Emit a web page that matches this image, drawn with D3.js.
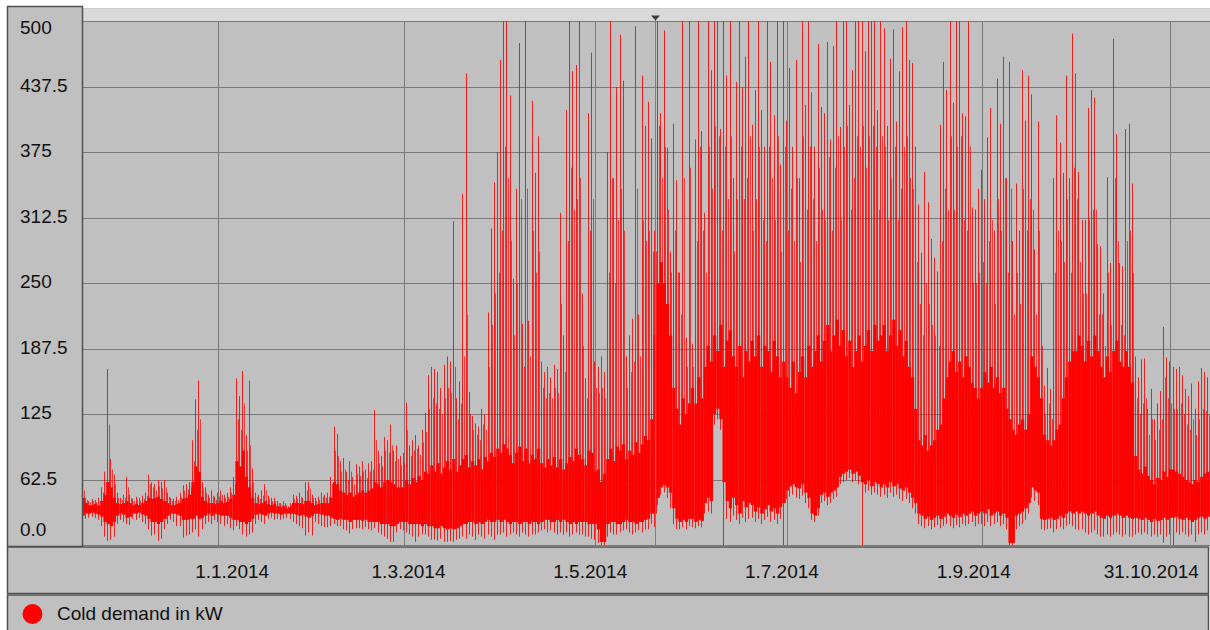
<!DOCTYPE html>
<html>
<head>
<meta charset="utf-8">
<script src="https://cdn.jsdelivr.net/npm/d3@7"></script>
<style>
  body { margin: 0; background: #ffffff; }
  svg { display: block; font-family: "Liberation Sans", Arial, Helvetica, sans-serif; }
</style>
</head>
<body>
<svg id="chart" width="1210" height="630"></svg>
<script>
// ---- data: daily envelope of the hourly cold demand (kW), one value per day from 19.11.2013 ----
const startDate = "2013-11-19";
const endDate = "2014-11-12";

// daily maximum (highest spike of the day)
const dailyMax = [
  80, 45, 42, 44, 43, 45, 55, 70, 168, 82, 67, 50,
  45, 48, 65, 48, 44, 46, 45, 47, 50, 67, 60, 58, 62, 60, 62, 50, 45, 44, 46, 50, 57, 58, 60, 100, 139, 157, 60, 55, 48, 52, 46,
  50, 52, 48, 50, 55, 65, 159, 142, 166, 105, 157, 73, 50, 48, 52, 58, 47, 45, 45, 42, 40, 42, 38, 40, 48, 47, 50, 45, 60, 60, 48,
  45, 46, 50, 48, 50, 65, 113, 106, 80, 83, 70, 80, 65, 77, 75, 80, 72, 78, 80, 129, 90, 85, 103, 100, 115, 90, 95, 85,
  88, 136, 95, 100, 105, 95, 110, 126, 162, 170, 168, 165, 150, 172, 180, 175, 309, 140, 156, 335, 450, 146, 123, 116, 113, 130, 125, 222, 302, 346, 375,
  463, 500, 500, 429, 254, 340, 479, 211, 500, 214, 424, 355, 390, 175, 165, 170, 160, 172, 168, 317, 200, 415, 500, 452, 458, 500, 240, 159, 412, 470,
  175, 170, 180, 165, 375, 500, 350, 437, 487, 443, 180, 200, 216, 495, 220, 448, 400, 423, 388, 300, 500, 412, 491, 379, 280, 402, 348, 260, 500, 198, 500,
  192, 387, 500, 395, 317, 500, 453, 500, 500, 397, 500, 448, 500, 350, 442, 500, 437, 466, 500, 401, 434, 500, 415, 380, 500, 461, 410, 500, 363, 500,
  405, 455, 380, 463, 350, 500, 420, 500, 432, 380, 478, 418, 412, 480, 387, 476, 500, 399, 500, 500, 420, 453, 500, 500, 500, 471, 500, 500, 500, 415, 500,
  493, 400, 464, 492, 404, 452, 494, 500, 463, 460, 380, 325, 279, 356, 327, 292, 274, 261, 401, 461, 434, 500, 422, 500, 500, 412, 409, 500, 322, 320, 340,
  358, 330, 389, 417, 300, 445, 402, 466, 350, 461, 290, 345, 300, 453, 405, 448, 430, 282, 404, 250, 152, 169, 149, 350, 410, 384, 355, 448, 350, 488,
  450, 356, 310, 310, 417, 434, 427, 287, 285, 240, 351, 269, 483, 392, 269, 266, 397, 402, 345, 180, 160, 177, 178, 130, 149, 120, 135, 147, 208, 179, 175,
  170, 168, 170, 162, 149, 142, 154, 130, 156, 169, 165, 160
];

// second highest excursion of the day
const dailySecond = [
  52, 43, 41, 42, 41, 42, 50, 60, 115, 72, 58, 45,
  43, 45, 55, 45, 42, 43, 42, 44, 47, 58, 55, 52, 56, 54, 55, 46, 42, 42, 43, 46, 52, 53, 55, 80, 110, 120, 54, 50, 45, 47, 43,
  46, 48, 45, 46, 50, 58, 120, 110, 135, 90, 95, 60, 46, 44, 47, 52, 44, 42, 42, 40, 38, 40, 37, 38, 44, 44, 46, 42, 52, 54, 45,
  42, 43, 46, 45, 46, 58, 90, 85, 70, 72, 62, 70, 58, 68, 66, 70, 64, 70, 72, 100, 78, 75, 90, 88, 95, 80, 82, 76,
  78, 110, 85, 90, 92, 86, 98, 108, 130, 140, 135, 130, 125, 140, 150, 145, 170, 120, 135, 180, 220, 125, 110, 105, 100, 115, 110, 170, 210, 240, 260,
  300, 380, 350, 290, 200, 250, 330, 170, 340, 180, 300, 260, 280, 150, 140, 145, 140, 150, 145, 230, 165, 290, 360, 320, 330, 350, 190, 140, 300, 330,
  150, 145, 150, 140, 260, 350, 250, 310, 340, 300, 150, 165, 175, 340, 180, 310, 290, 300, 280, 280, 400, 350, 380, 320, 260, 300, 260, 220, 350, 170, 360,
  170, 290, 380, 300, 260, 380, 340, 400, 390, 300, 380, 330, 390, 280, 330, 380, 330, 350, 390, 300, 330, 380, 310, 290, 380, 350, 310, 390, 280, 380,
  300, 340, 290, 350, 270, 390, 320, 380, 330, 290, 360, 320, 310, 370, 300, 360, 390, 310, 380, 400, 320, 350, 390, 380, 400, 360, 390, 400, 380, 320, 390,
  380, 310, 350, 380, 310, 340, 380, 390, 350, 340, 270, 230, 200, 250, 230, 210, 200, 190, 290, 340, 320, 390, 320, 380, 390, 310, 300, 380, 250, 250, 260,
  270, 250, 290, 310, 230, 330, 300, 350, 260, 340, 220, 260, 230, 340, 300, 330, 320, 220, 300, 190, 125, 135, 120, 260, 300, 290, 270, 330, 260, 360,
  330, 270, 240, 240, 310, 320, 320, 220, 220, 190, 260, 210, 350, 290, 210, 200, 290, 300, 260, 140, 125, 135, 140, 105, 120, 100, 110, 120, 160, 140, 135,
  130, 130, 135, 125, 115, 110, 120, 105, 120, 130, 128, 125
];

// upper edge of the dense daily band
const dailyTop = [
  45, 40, 38, 38, 39, 38, 42, 48, 60, 55, 45, 40,
  39, 40, 42, 40, 38, 39, 38, 40, 42, 45, 44, 45, 46, 44, 42, 40, 38, 38, 39, 40, 44, 45, 48, 60, 75, 70, 46, 42, 40, 40, 39,
  40, 42, 40, 41, 44, 48, 80, 75, 90, 65, 55, 45, 40, 39, 40, 42, 39, 38, 39, 37, 36, 37, 35, 36, 40, 40, 40, 39, 42, 42, 40,
  38, 39, 40, 40, 40, 45, 60, 58, 52, 50, 48, 50, 46, 48, 50, 52, 50, 52, 54, 60, 58, 55, 60, 62, 60, 58, 55, 55,
  55, 62, 58, 64, 60, 66, 62, 70, 68, 76, 70, 78, 68, 74, 80, 72, 82, 70, 76, 82, 86, 74, 80, 76, 82, 72, 84, 80, 88, 84, 92,
  88, 96, 92, 86, 78, 88, 94, 80, 92, 78, 86, 82, 92, 78, 74, 82, 76, 84, 74, 82, 72, 78, 84, 80, 92, 86, 82, 76, 90, 88,
  70, 72, 60, 68, 82, 92, 80, 94, 90, 96, 82, 90, 86, 98, 88, 96, 104, 100, 120, 200, 250, 270, 250, 230, 200, 150, 130, 115, 140, 125, 135,
  150, 135, 160, 140, 170, 190, 175, 200, 185, 210, 170, 195, 205, 180, 170, 190, 160, 185, 175, 195, 180, 200, 170, 190, 185, 165, 195, 180, 160, 175,
  160, 150, 175, 145, 165, 180, 160, 190, 170, 185, 200, 175, 195, 210, 185, 200, 215, 190, 205, 180, 195, 170, 185, 200, 175, 190, 205, 185, 210, 195, 200,
  210, 185, 200, 215, 190, 205, 180, 195, 170, 160, 130, 100, 95, 105, 90, 95, 100, 110, 115, 140, 160, 175, 185, 165, 175, 160, 180, 170, 155, 150, 140,
  150, 165, 155, 170, 150, 160, 145, 150, 130, 120, 110, 105, 115, 120, 110, 125, 180, 170, 160, 140, 105, 100, 95, 100, 110, 115, 140, 160, 175, 185,
  185, 200, 190, 175, 195, 180, 200, 185, 170, 160, 180, 165, 185, 195, 175, 170, 185, 170, 155, 85, 72, 68, 75, 66, 62, 58, 64, 62, 70, 65, 72,
  72, 70, 68, 65, 62, 60, 58, 62, 60, 65, 68, 70
];

// lower edge of the dense daily band
const dailyBottom = [
  28, 30, 30, 31, 30, 29, 27, 22, 20, 18, 22, 28,
  30, 29, 26, 27, 30, 30, 31, 29, 28, 25, 22, 22, 20, 22, 25, 28, 30, 30, 29, 28, 24, 24, 25, 25, 28, 25, 26, 28, 30, 28, 30,
  29, 28, 28, 28, 26, 24, 24, 22, 22, 20, 22, 25, 29, 30, 29, 28, 30, 31, 30, 30, 29, 30, 30, 30, 30, 29, 28, 29, 27, 26, 28,
  30, 30, 29, 28, 28, 26, 25, 24, 25, 24, 24, 22, 24, 24, 24, 23, 24, 22, 22, 22, 22, 20, 20, 20, 18, 18, 20, 22,
  22, 22, 20, 20, 20, 20, 18, 20, 18, 18, 16, 16, 18, 16, 15, 16, 15, 16, 18, 20, 20, 22, 22, 20, 22, 20, 22, 24, 22, 22, 24,
  22, 24, 22, 20, 22, 22, 20, 22, 22, 20, 22, 22, 20, 22, 24, 24, 22, 22, 24, 22, 24, 22, 20, 22, 20, 22, 22, 22, 20, 20,
  20, 15, 3, 3, 20, 22, 22, 20, 20, 22, 24, 22, 22, 20, 22, 22, 24, 25, 30, 30, 45, 55, 57, 55, 50, 35, 25, 22, 24, 22, 25,
  25, 22, 24, 23, 40, 45, 42, 125, 130, 120, 60, 42, 35, 45, 38, 30, 42, 36, 40, 38, 32, 36, 30, 34, 38, 32, 35, 30, 36, 40,
  52, 56, 58, 55, 54, 58, 50, 45, 30, 28, 35, 48, 50, 46, 50, 52, 55, 65, 68, 70, 72, 68, 70, 66, 60, 58, 62, 56, 60, 58, 55,
  58, 55, 60, 56, 58, 54, 52, 55, 50, 45, 40, 30, 28, 25, 27, 24, 26, 28, 25, 27, 30, 28, 26, 29, 27, 30, 28, 30, 32, 28, 30,
  32, 30, 34, 28, 30, 32, 28, 30, 26, 2, 2, 28, 30, 32, 35, 40, 55, 52, 50, 25, 24, 25, 26, 24, 25, 28, 26, 30, 32, 30,
  32, 30, 32, 30, 28, 30, 32, 28, 26, 25, 28, 26, 28, 30, 28, 26, 28, 26, 25, 26, 25, 24, 26, 24, 22, 25, 23, 24, 26, 24, 26,
  26, 27, 25, 24, 26, 24, 22, 24, 26, 27, 25, 27
];

// daily minimum
const dailyMin = [
  22, 25, 26, 27, 26, 24, 18, 8, 4, 5, 8, 20,
  24, 22, 20, 19, 25, 24, 26, 22, 20, 15, 9, 10, 4, 6, 15, 20, 24, 22, 18, 18, 7, 9, 10, 12, 15, 8, 15, 20, 22, 20, 24,
  22, 20, 18, 20, 16, 14, 18, 15, 10, 8, 10, 12, 20, 24, 22, 20, 25, 26, 24, 25, 24, 25, 26, 25, 22, 20, 18, 16, 9, 12, 9,
  22, 20, 18, 17, 17, 18, 20, 18, 18, 15, 14, 11, 15, 16, 16, 15, 17, 15, 14, 16, 12, 10, 8, 6, 3, 3, 12, 15,
  14, 12, 10, 8, 3, 8, 10, 10, 8, 5, 5, 4, 6, 3, 3, 4, 3, 5, 6, 8, 6, 10, 8, 5, 10, 8, 6, 10, 8, 5, 10,
  10, 12, 8, 10, 12, 10, 8, 12, 10, 8, 10, 10, 12, 14, 15, 12, 14, 12, 10, 12, 10, 12, 8, 10, 12, 10, 10, 8, 8, 6,
  5, 2, 0, 0, 8, 12, 10, 10, 12, 14, 15, 12, 10, 12, 14, 12, 15, 15, 20, 17, 38, 48, 50, 45, 35, 20, 15, 15, 17, 15, 18,
  17, 16, 18, 17, 30, 32, 30, 115, 120, 110, 0, 25, 22, 28, 24, 20, 26, 22, 25, 26, 22, 25, 20, 24, 27, 22, 24, 20, 25, 0,
  44, 46, 48, 45, 44, 47, 40, 35, 24, 22, 28, 40, 42, 38, 40, 44, 46, 58, 60, 62, 64, 60, 62, 58, 0, 50, 52, 48, 50, 48, 46,
  48, 45, 50, 46, 48, 44, 42, 44, 40, 35, 30, 20, 18, 16, 18, 15, 17, 19, 16, 18, 20, 18, 16, 19, 17, 20, 18, 20, 22, 18, 20,
  20, 18, 22, 18, 20, 22, 18, 20, 15, 0, 0, 15, 18, 20, 24, 30, 45, 42, 38, 15, 14, 15, 16, 12, 15, 17, 15, 18, 20, 18,
  15, 14, 15, 12, 10, 12, 14, 10, 8, 8, 10, 8, 10, 12, 10, 8, 10, 8, 8, 10, 12, 10, 12, 10, 8, 10, 8, 10, 2, 8, 10,
  0, 12, 10, 12, 10, 8, 10, 3, 10, 12, 10, 14
];

const yTicks = [0, 62.5, 125, 187.5, 250, 312.5, 375, 437.5, 500];
const yTickLabels = ["0.0", "62.5", "125", "187.5", "250", "312.5", "375", "437.5", "500"];
const xTickDates = ["2014-01-01", "2014-03-01", "2014-05-01", "2014-07-01", "2014-09-01", "2014-10-31"];
const xTickLabels = ["1.1.2014", "1.3.2014", "1.5.2014", "1.7.2014", "1.9.2014", "31.10.2014"];
const cursorDate = "2014-05-20";
const seriesName = "Cold demand in kW";

// ---- layout ----
const plot = { left: 83, right: 1208, top: 21, bottom: 545 };
const labelNudge = [14, 5, -5, -5, -8, -19];   // horizontal shift of the date captions
const font = 19;

const parse = d3.utcParse("%Y-%m-%d");
const t0 = parse(startDate);
const days = dailyMax.map((v, i) => ({
  date: d3.utcDay.offset(t0, i),
  max: v, second: dailySecond[i], top: dailyTop[i], bottom: dailyBottom[i], min: dailyMin[i]
}));

const x = d3.scaleUtc().domain([t0, parse(endDate)]).range([plot.left, plot.right]);
const y = d3.scaleLinear().domain([0, 500]).range([plot.bottom, plot.top]);
const dayW = x(d3.utcDay.offset(t0, 1)) - x(t0);

const svg = d3.select("#chart");

// title strip above the plot
svg.append("rect").attr("x", plot.left).attr("y", 8).attr("width", plot.right - plot.left + 2).attr("height", plot.top - 8)
  .attr("fill", "#d9d9d9");
svg.append("line").attr("x1", plot.left).attr("x2", plot.right + 2).attr("y1", 8.5).attr("y2", 8.5)
  .attr("stroke", "#cdcdcd");

// plot background
svg.append("rect").attr("x", plot.left).attr("y", plot.top).attr("width", plot.right - plot.left + 2)
  .attr("height", plot.bottom - plot.top).attr("fill", "#c0c0c0");

// grid
const grid = svg.append("g").attr("stroke", "#7a7a7a").attr("stroke-width", 1).attr("shape-rendering", "crispEdges");
grid.selectAll("line.h").data(yTicks).join("line").attr("class", "h")
  .attr("x1", plot.left).attr("x2", plot.right + 2)
  .attr("y1", d => Math.round(y(d)) + 0.5).attr("y2", d => Math.round(y(d)) + 0.5);
grid.selectAll("line.v").data(xTickDates).join("line").attr("class", "v")
  .attr("y1", plot.top).attr("y2", plot.bottom)
  .attr("x1", d => Math.round(x(parse(d))) + 0.5).attr("x2", d => Math.round(x(parse(d))) + 0.5);

// series
svg.append("clipPath").attr("id", "plotClip").append("rect")
  .attr("x", plot.left).attr("y", plot.top).attr("width", plot.right - plot.left + 2).attr("height", plot.bottom - plot.top);
const series = svg.append("g").attr("clip-path", "url(#plotClip)");

series.selectAll("rect.band").data(days).join("rect").attr("class", "band")
  .attr("x", d => x(d.date) - dayW / 2)
  .attr("width", dayW)
  .attr("y", d => y(d.top))
  .attr("height", d => y(d.bottom) - y(d.top))
  .attr("fill", "#ff0000");

// second excursion, just right of the day centre
series.selectAll("line.second").data(days).join("line").attr("class", "second")
  .attr("x1", d => Math.round(x(d.date) + 0.8) + 0.5).attr("x2", d => Math.round(x(d.date) + 0.8) + 0.5)
  .attr("y1", d => y(d.bottom)).attr("y2", d => y(d.second))
  .attr("stroke", "#ff0000").attr("stroke-opacity", 0.7).attr("stroke-width", 1);

// daily range, min to max, just left of the day centre
series.selectAll("line.spike").data(days).join("line").attr("class", "spike")
  .attr("x1", d => Math.round(x(d.date) - 0.8) + 0.5).attr("x2", d => Math.round(x(d.date) - 0.8) + 0.5)
  .attr("y1", d => y(d.min)).attr("y2", d => y(d.max))
  .attr("stroke", "#ff0000").attr("stroke-opacity", 0.85).attr("stroke-width", 1);

// cursor line with marker
const cx = Math.round(x(parse(cursorDate))) + 0.5;
svg.append("line").attr("x1", cx).attr("x2", cx).attr("y1", 17).attr("y2", plot.bottom)
  .attr("stroke", "#7373d2").attr("stroke-width", 1);
svg.append("path").attr("d", `M${cx - 4.5},15.5 L${cx + 4.5},15.5 L${cx},20.5 Z`).attr("fill", "#3c3c3c");

// y axis panel
svg.append("rect").attr("x", 7.5).attr("y", 6.5).attr("width", 75).attr("height", 540)
  .attr("fill", "#c0c0c0").attr("stroke", "#505050").attr("stroke-width", 1.5);
svg.append("g").selectAll("text").data(yTicks).join("text")
  .attr("x", 20)
  .attr("y", d => Math.max(27, Math.min(529, y(d) - 2)) + 7)
  .attr("font-size", font).attr("fill", "#111")
  .text((d, i) => yTickLabels[i]);

// x axis box
svg.append("rect").attr("x", 7.5).attr("y", 547).attr("width", 1201).attr("height", 46.5)
  .attr("fill", "#c0c0c0").attr("stroke", "#505050").attr("stroke-width", 1.5);
svg.append("g").selectAll("text").data(xTickDates).join("text")
  .attr("x", (d, i) => x(parse(d)) + labelNudge[i])
  .attr("y", 578)
  .attr("text-anchor", "middle")
  .attr("font-size", font).attr("fill", "#111")
  .text((d, i) => xTickLabels[i]);

// legend
svg.append("rect").attr("x", 7.5).attr("y", 595).attr("width", 1201).attr("height", 40)
  .attr("fill", "#c0c0c0").attr("stroke", "#505050").attr("stroke-width", 1.5);
svg.append("circle").attr("cx", 32.5).attr("cy", 614).attr("r", 10).attr("fill", "#ff0000");
svg.append("text").attr("x", 57).attr("y", 620).attr("font-size", font).attr("fill", "#111").text(seriesName);
</script>
</body>
</html>
